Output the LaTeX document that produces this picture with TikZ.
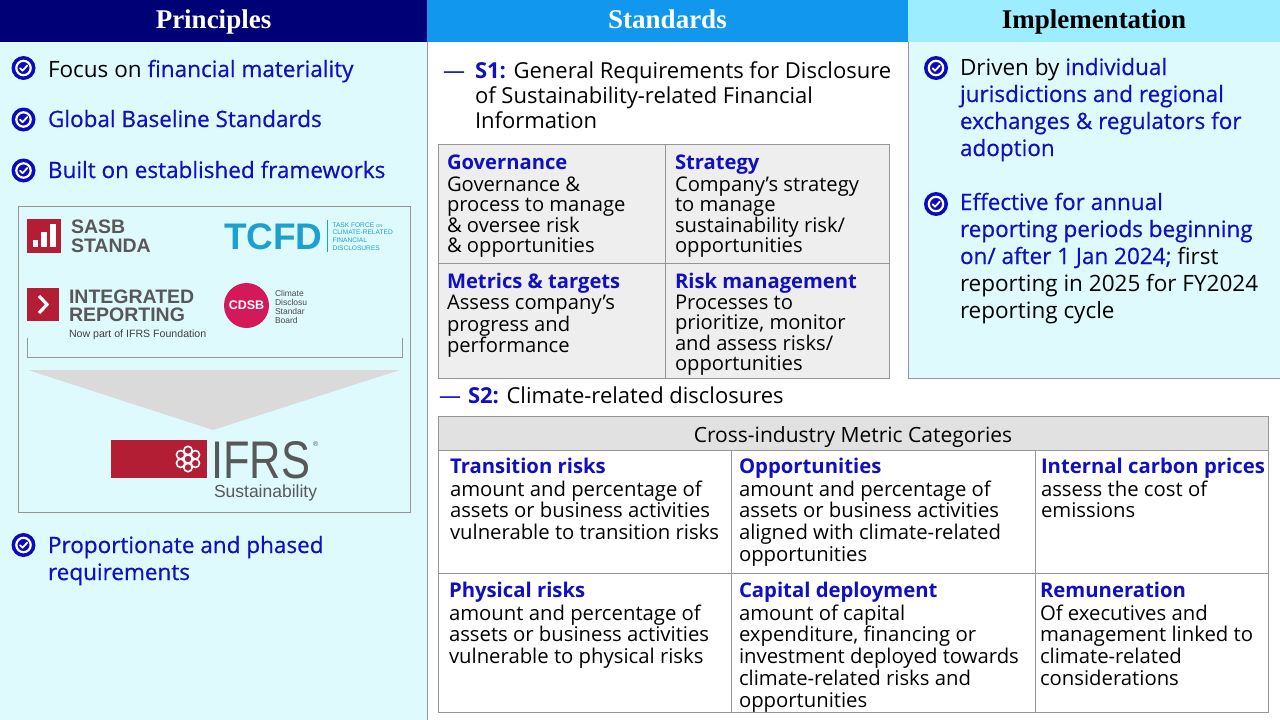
\documentclass[tikz,border=0pt]{standalone}
\usepackage{fontspec}
\usetikzlibrary{calc}
\setmainfont{Open Sans}
\newfontfamily\medfont[FakeBold=0.6]{Open Sans}
\newfontfamily\hdrfont{Liberation Serif}
\newfontfamily\logofont{Liberation Sans}
\newfontfamily\ifrsfont[FakeStretch=0.82]{Liberation Sans}
\definecolor{navyhdr}{RGB}{0,0,118}
\definecolor{stdhdr}{RGB}{17,152,238}
\definecolor{imphdr}{RGB}{155,237,255}
\definecolor{panelbg}{RGB}{222,250,253}
\definecolor{txtblue}{RGB}{16,16,190}
\definecolor{iconblue}{RGB}{10,10,190}
\definecolor{gridbg}{RGB}{238,238,238}
\definecolor{tblhdr}{RGB}{225,225,225}
\definecolor{linegray}{RGB}{150,150,150}
\definecolor{logored}{RGB}{180,30,52}
\definecolor{cdsbred}{RGB}{212,25,90}
\definecolor{tcfdcol}{RGB}{28,160,205}
\definecolor{logogray}{RGB}{88,88,90}
\definecolor{arrowgray}{RGB}{218,218,218}
\newcommand\bl[1]{{\medfont\textcolor{txtblue}{#1}}}
\newcommand\hd[1]{\textbf{\textcolor{txtblue}{#1}}}
\tikzset{
  every node/.style={inner sep=0pt, outer sep=0pt},
  hdrbox/.style={rectangle, minimum height=42, text height=19, text depth=5,
    font=\hdrfont\bfseries\fontsize{27}{27}\selectfont},
  txt/.style={anchor=north west, align=left},
  bigtxt/.style={txt, font=\fontsize{22.5}{27}\selectfont},
  s1txt/.style={txt, font=\fontsize{22}{25}\selectfont},
  gridtxt/.style={txt, font=\fontsize{20.2}{20}\selectfont},
  tbltxt/.style={txt, font=\fontsize{20.3}{21.7}\selectfont},
  cell/.style={rectangle, draw=linegray, line width=0.8},
  chk/.pic={
    \fill[iconblue] (0,0) circle[radius=12];
    \draw[white, line width=2.2] (0,0) circle[radius=7.2];
    \draw[white, line width=1.8, line cap=round, line join=round]
      (-3.5,0.2) -- (-1,2.7) -- (3.8,-2.4);
  },
  logobold/.style={anchor=base west, text=logogray, font=\logofont\bfseries\fontsize{19.5}{19.5}\selectfont},
  tcfdsmall/.style={anchor=base west, text=tcfdcol, font=\logofont\fontsize{6.6}{6.6}\selectfont},
}
\begin{document}
\begin{tikzpicture}[x=1pt,y=-1pt]
\useasboundingbox (0,0) rectangle (1280,720);
\fill[white] (0,0) rectangle (1280,720);

% ---------- panels ----------
\fill[panelbg] (0,42) rectangle (427,720);
\draw[linegray, line width=0.8] (427.5,42) -- (427.5,720);
\fill[panelbg] (908,42) rectangle (1280,378);
\draw[linegray, line width=0.8] (908.5,42) -- (908.5,378) -- (1280,378);

% ---------- headers ----------
\node[hdrbox, fill=navyhdr, text=white, minimum width=427] (hP) at (213.5,21) {Principles};
\node[hdrbox, fill=stdhdr, text=white, minimum width=481] (hS) at (667.5,21) {Standards};
\node[hdrbox, fill=imphdr, text=black, minimum width=372] (hI) at (1094,21) {Implementation};

% ---------- Principles ----------
\pic at (23.5,68) {chk};
\node[bigtxt] (p1) at (48,58.1) {\strut Focus on \bl{financial materiality}};
\pic at (23.5,119.5) {chk};
\node[bigtxt] (p2) at (48,108.1) {\strut\bl{Global Baseline Standards}};
\pic at (23.5,170.5) {chk};
\node[bigtxt] (p3) at (48,159.1) {\strut\bl{Built on established frameworks}};
\pic at (23.5,545) {chk};
\node[bigtxt] (p4) at (48,534.1) {\strut\bl{Proportionate and phased}\\\bl{requirements}};

% logo box
\draw[linegray, line width=0.8, fill=panelbg] (18.5,206.5) rectangle (410.5,512);
% SASB
\fill[logored] (27,219) rectangle (61,253);
\fill[white] (33,240) rectangle (38,247);
\fill[white] (41,232) rectangle (47,247);
\fill[white] (50,224) rectangle (56,247);
\node[logobold] (sasb1) at (71,233.5) {SASB};
\node[logobold] (sasb2) at (71,252) {STANDA};
% TCFD
\node[anchor=base west, text=tcfdcol, font=\logofont\bfseries\fontsize{37}{37}\selectfont] (tcfd) at (224,249) {TCFD};
\draw[tcfdcol, line width=0.8] (327,220) -- (327,252);
\node[tcfdsmall] (tc1) at (332.5,227) {TASK FORCE {\fontsize{4.2}{5}\selectfont ON}};
\node[tcfdsmall] (tc2) at (332.5,234.8) {CLIMATE-RELATED};
\node[tcfdsmall] (tc3) at (332.5,242.6) {FINANCIAL};
\node[tcfdsmall] (tc4) at (332.5,250.4) {DISCLOSURES};
% Integrated reporting
\fill[logored] (27,288) rectangle (59,321);
\draw[white, line width=3.2] (39,296) -- (47,304.5) -- (39,313);
\node[logobold] (ir1) at (69,303) {INTEGRATED};
\node[logobold] (ir2) at (69,321) {REPORTING};
\node[anchor=base west, text=black!75, font=\logofont\fontsize{10.6}{10.6}\selectfont] (ir3) at (69,337) {Now part of IFRS Foundation};
% CDSB
\node[circle, fill=cdsbred, minimum size=45, text=white, font=\logofont\bfseries\fontsize{12.5}{12.5}\selectfont] (cdsb) at (246.5,305.5) {CDSB};
\node[txt, text=black!70, font=\logofont\fontsize{8.5}{9.2}\selectfont] (cdsbt) at (275,289.6)
  {\strut Climate\\Disclosu\\Standar\\Board};
% bracket
\draw[linegray, line width=0.8] (27,338) -- (27,357) -- (402,357) -- (402,338);
% arrow triangle
\fill[arrowgray] (28,370) -- (400,370) -- (213,430) -- cycle;
% IFRS
\fill[logored] (111,440) rectangle (207,478);
\foreach \a in {30,90,...,330}{
  \draw[white, line width=1.6] ($(188,459)+(\a:8.5)$) circle[radius=4.2];
}
\draw[white, line width=1.6] (188,459) circle[radius=4.2];
\node[anchor=base west, text depth=0pt, text=logogray, font=\ifrsfont\fontsize{53}{53}\selectfont] (ifrs) at (211,478) {IFRS};
\node[anchor=base west, text=logogray, font=\logofont\fontsize{7}{7}\selectfont] (reg) at (313,446) {®};
\node[anchor=base west, text height=12.5pt, text=logogray, font=\logofont\fontsize{17.5}{17.5}\selectfont] (sust) at (214,497) {Sustainability};

% ---------- Standards ----------
\node[anchor=base west, text=txtblue, font=\fontsize{22}{25}\selectfont] (d1) at (443,78) {—};
\node[s1txt] (s1) at (475,60.5) {\strut\hd{S1:} General Requirements for Disclosure\\of Sustainability-related Financial\\Information};

\node[cell, fill=gridbg, minimum width=227, minimum height=119] (g11) at (551.5,203.5) {};
\node[cell, fill=gridbg, minimum width=224, minimum height=119] (g12) at (777,203.5) {};
\node[cell, fill=gridbg, minimum width=227, minimum height=115] (g21) at (551.5,320.5) {};
\node[cell, fill=gridbg, minimum width=224, minimum height=115] (g22) at (777,320.5) {};
\node[gridtxt] (t11) at (447,155) {\strut\hd{Governance}\\Governance \&\\process to manage\\\& oversee risk\\\& opportunities};
\node[gridtxt] (t12) at (675,155) {\strut\hd{Strategy}\\Company’s strategy\\to manage\\sustainability risk/\\opportunities};
\node[gridtxt] (t21) at (447,273) {\strut\hd{Metrics \& targets}\\Assess company’s\\progress and\\performance};
\node[gridtxt] (t22) at (675,273) {\strut\hd{Risk management}\\Processes to\\prioritize, monitor\\and assess risks/\\opportunities};

\node[anchor=base west, text=txtblue, font=\fontsize{22}{25}\selectfont] (d2) at (439,403) {—};
\node[anchor=base west, font=\fontsize{22}{25}\selectfont] (s2) at (468,403) {\hd{S2:} Climate-related disclosures};

% bottom table
\node[cell, fill=tblhdr, minimum width=830, minimum height=34] (th) at (853,433) {};
\node[anchor=base, font=\fontsize{21}{21}\selectfont] (tht) at (853,442) {Cross-industry Metric Categories};
\node[cell, minimum width=293, minimum height=123] (b11) at (584.5,511.5) {};
\node[cell, minimum width=304, minimum height=123] (b12) at (883,511.5) {};
\node[cell, minimum width=233, minimum height=123] (b13) at (1151.5,511.5) {};
\node[cell, minimum width=293, minimum height=139] (b21) at (584.5,642.5) {};
\node[cell, minimum width=304, minimum height=139] (b22) at (883,642.5) {};
\node[cell, minimum width=233, minimum height=139] (b23) at (1151.5,642.5) {};
\node[tbltxt] (c11) at (450,457.8) {\strut\hd{Transition risks}\\amount and percentage of\\assets or business activities\\vulnerable to transition risks};
\node[tbltxt] (c12) at (739,457.8) {\strut\hd{Opportunities}\\amount and percentage of\\assets or business activities\\aligned with climate-related\\opportunities};
\node[tbltxt] (c13) at (1041,457.8) {\strut\hd{Internal carbon prices}\\assess the cost of\\emissions};
\node[tbltxt] (c21) at (449,581.8) {\strut\hd{Physical risks}\\amount and percentage of\\assets or business activities\\vulnerable to physical risks};
\node[tbltxt] (c22) at (739,581.8) {\strut\hd{Capital deployment}\\amount of capital\\expenditure, financing or\\investment deployed towards\\climate-related risks and\\opportunities};
\node[tbltxt] (c23) at (1040,581.8) {\strut\hd{Remuneration}\\Of executives and\\management linked to\\climate-related\\considerations};

% ---------- Implementation ----------
\pic at (936,68) {chk};
\node[bigtxt] (i1) at (960,56.1) {\strut Driven by \bl{individual}\\\bl{jurisdictions and regional}\\\bl{exchanges \& regulators for}\\\bl{adoption}};
\pic at (936,204) {chk};
\node[bigtxt] (i2) at (960,191.1) {\strut\bl{Effective for annual}\\\bl{reporting periods beginning}\\\bl{on/ after 1 Jan 2024;} first\\reporting in 2025 for FY2024\\reporting cycle};
\end{tikzpicture}
\end{document}
